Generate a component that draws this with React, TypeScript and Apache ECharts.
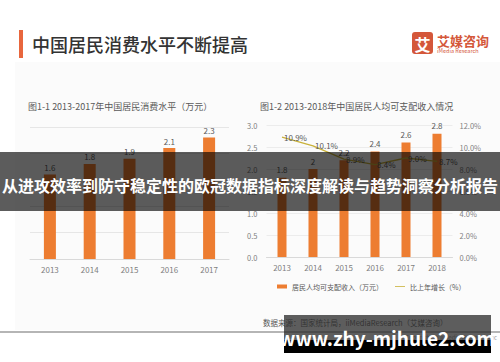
import React, { useEffect, useRef } from "react";
import * as echarts from "echarts";

const years1 = ["2013", "2014", "2015", "2016", "2017"];
const consumption = [1.6, 1.8, 1.9, 2.1, 2.3];

const years2 = ["2013", "2014", "2015", "2016", "2017", "2018"];
const income = [1.8, 2.0, 2.2, 2.4, 2.6, 2.8];
const growth = [10.9, 10.1, 8.9, 8.4, 9.0, 8.7];

const incomeName = "居民人均可支配收入（万元）";
const growthName = "比上年增长（%）";

const FONT = '"Noto Sans CJK SC", "Noto Sans", sans-serif';
const ORANGE = "#ED7D31";
const LINE = "#C9B23A";
const GRAY = "#7f7f7f";

export default function App() {
  const ref = useRef<HTMLDivElement>(null);
  useEffect(() => {
    if (!ref.current) return;
    const chart = echarts.init(ref.current, undefined, { renderer: "svg" });
    const option: any = {
      animation: false,
      backgroundColor: "#ffffff",
      textStyle: { fontFamily: FONT },
      grid: [
        { left: 30, right: 271, top: 127, bottom: 103 },
        { left: 266.5, right: 47.5, top: 125, bottom: 105 },
      ],
      legend: {
        left: 272,
        top: 278,
        itemWidth: 10,
        itemHeight: 4,
        itemGap: 12,
        symbolKeepAspect: true,
        textStyle: { fontSize: 7, color: "#595959", fontFamily: FONT },
        data: [
          { name: incomeName, icon: "rect" },
          { name: growthName, icon: "path://M0,0 L20,0 L20,1.6 L0,1.6 Z" },
        ],
      },
      xAxis: [
        {
          type: "category",
          gridIndex: 0,
          data: years1,
          axisLine: { lineStyle: { color: "#d9d9d9" } },
          axisTick: { show: false },
          axisLabel: { color: GRAY, fontSize: 8, margin: 6, fontFamily: FONT },
        },
        {
          type: "category",
          gridIndex: 1,
          data: years2,
          axisLine: { lineStyle: { color: "#d9d9d9" } },
          axisTick: { show: false },
          axisLabel: { color: GRAY, fontSize: 8, margin: 6, fontFamily: FONT },
        },
      ],
      yAxis: [
        {
          type: "value",
          gridIndex: 0,
          min: 0,
          max: 2.5,
          interval: 0.5,
          axisLabel: { show: false },
          axisLine: { show: false },
          axisTick: { show: false },
          splitLine: { lineStyle: { color: "#e6e6e6" } },
        },
        {
          type: "value",
          gridIndex: 1,
          min: 0,
          max: 3,
          interval: 0.5,
          axisLabel: {
            color: GRAY,
            fontSize: 7.5,
            margin: 9,
            fontFamily: FONT,
            formatter: (v: number) => v.toFixed(1),
          },
          axisLine: { show: false },
          axisTick: { show: false },
          splitLine: { lineStyle: { color: "#ececec" } },
        },
        {
          type: "value",
          gridIndex: 1,
          position: "right",
          min: 0,
          max: 12,
          interval: 2,
          axisLabel: {
            color: GRAY,
            fontSize: 7.5,
            margin: 7,
            fontFamily: FONT,
            formatter: (v: number) => v.toFixed(1) + "%",
          },
          axisLine: { show: false },
          axisTick: { show: false },
          splitLine: { show: false },
        },
      ],
      series: [
        {
          type: "bar",
          name: "消费水平",
          xAxisIndex: 0,
          yAxisIndex: 0,
          data: consumption,
          barWidth: 12,
          itemStyle: { color: ORANGE },
          label: {
            show: true,
            position: "top",
            distance: 3,
            color: "#595959",
            fontSize: 8,
            fontFamily: FONT,
          },
        },
        {
          type: "bar",
          name: incomeName,
          xAxisIndex: 1,
          yAxisIndex: 1,
          data: income,
          barWidth: 9,
          itemStyle: { color: ORANGE },
          label: {
            show: true,
            position: "top",
            distance: 4,
            color: "#595959",
            fontSize: 8,
            fontFamily: FONT,
            formatter: (p: any) => String(p.value),
          },
        },
        {
          type: "line",
          name: growthName,
          xAxisIndex: 1,
          yAxisIndex: 2,
          data: growth,
          showSymbol: true,
          symbol: "circle",
          symbolSize: 0.1,
          lineStyle: { color: LINE, width: 1.3 },
          itemStyle: { color: LINE },
          z: 5,
          label: {
            show: true,
            position: "right",
            distance: 2,
            color: "#595959",
            fontSize: 8,
            fontFamily: FONT,
            formatter: (p: any) => Number(p.value).toFixed(1) + "%",
          },
        },
      ],
      graphic: [
        {
          type: "rect",
          z: -10,
          shape: { x: 15, y: 62, width: 485, height: 268 },
          style: { fill: "#fbfbfb" },
        },
        {
          type: "rect",
          z: 10,
          shape: { x: 19, y: 30, width: 4, height: 28 },
          style: { fill: "#E8663D" },
        },
        {
          type: "text",
          z: 10,
          x: 32,
          y: 44,
          style: {
            text: "中国居民消费水平不断提高",
            font: `500 18px ${FONT}`,
            fill: "#333333",
            textVerticalAlign: "middle",
          },
        },
        {
          type: "rect",
          z: 10,
          shape: { x: 412, y: 32, width: 21, height: 22, r: 3 },
          style: { fill: "#D4573A" },
        },
        {
          type: "text",
          z: 11,
          x: 422.5,
          y: 43.5,
          style: {
            text: "艾",
            font: `bold 16px ${FONT}`,
            fill: "#ffffff",
            textAlign: "center",
            textVerticalAlign: "middle",
          },
        },
        {
          type: "text",
          z: 10,
          x: 437,
          y: 40,
          style: {
            text: "艾媒咨询",
            font: `bold 13px ${FONT}`,
            fill: "#D4573A",
            textVerticalAlign: "middle",
          },
        },
        {
          type: "text",
          z: 10,
          x: 437,
          y: 51,
          style: {
            text: "iMedia Research",
            font: `5.5px ${FONT}`,
            fill: "#D4573A",
            textVerticalAlign: "middle",
          },
        },
        {
          type: "text",
          z: 10,
          x: 28,
          y: 106,
          style: {
            text: "图1-1 2013-2017年中国居民消费水平（万元）",
            font: `9px ${FONT}`,
            fill: "#595959",
            textVerticalAlign: "middle",
          },
        },
        {
          type: "text",
          z: 10,
          x: 260,
          y: 106,
          style: {
            text: "图1-2 2013-2018年中国居民人均可支配收入情况",
            font: `9px ${FONT}`,
            fill: "#595959",
            textVerticalAlign: "middle",
          },
        },
        {
          type: "text",
          z: 10,
          x: 263,
          y: 322,
          style: {
            text: "数据来源：国家统计局，iiMediaResearch（艾媒咨询）",
            font: `7.5px ${FONT}`,
            fill: "#555555",
            textVerticalAlign: "middle",
          },
        },
        {
          type: "rect",
          z: 10,
          shape: { x: 0, y: 331, width: 500, height: 2 },
          style: { fill: "#b5b5b5" },
        },
        {
          type: "text",
          z: 10,
          x: 497,
          y: 337,
          style: {
            text: "Copyright © iiMedia Research Inc",
            font: `6px ${FONT}`,
            fill: "#999999",
            textAlign: "right",
            textVerticalAlign: "middle",
          },
        },
        {
          type: "rect",
          z: 100,
          shape: { x: 0, y: 152, width: 500, height: 59 },
          style: { fill: "rgba(0,0,0,0.64)" },
        },
        {
          type: "text",
          z: 101,
          x: 250,
          y: 185,
          style: {
            text: "从进攻效率到防守稳定性的欧冠数据指标深度解读与趋势洞察分析报告",
            font: `bold 16px ${FONT}`,
            fill: "#ffffff",
            textAlign: "center",
            textVerticalAlign: "middle",
          },
        },
        {
          type: "rect",
          z: 100,
          shape: { x: 284, y: 315, width: 207, height: 25 },
          style: { fill: "rgba(40,40,40,0.75)" },
        },
        {
          type: "rect",
          z: 100,
          shape: { x: 284, y: 340, width: 207, height: 13 },
          style: { fill: "#000000" },
        },
        {
          type: "text",
          z: 101,
          x: 387,
          y: 337,
          style: {
            text: "www.zhy-mjhule2.com",
            font: `bold 19px ${FONT}`,
            fill: "#ffffff",
            textAlign: "center",
            textVerticalAlign: "middle",
          },
        },
      ],
    };
    chart.setOption(option);
    return () => chart.dispose();
  }, []);
  return (
    <div
      ref={ref}
      style={{ position: "fixed", left: 0, top: 0, width: 500, height: 362 }}
    />
  );
}
